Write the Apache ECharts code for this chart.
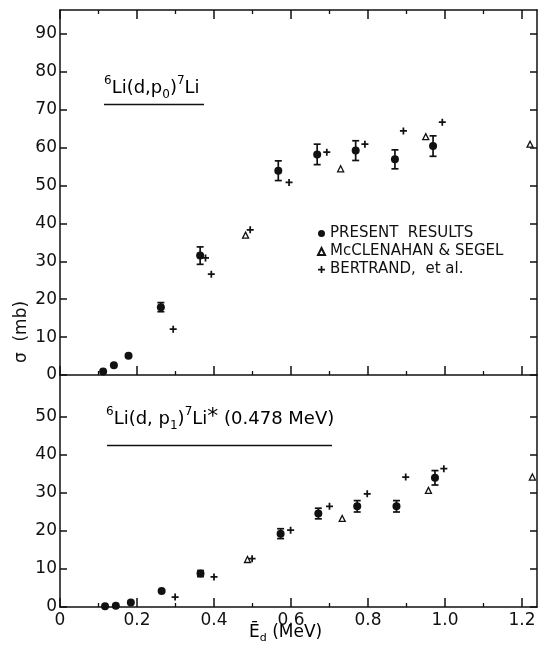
<!DOCTYPE html>
<html>
<head>
    <meta charset="utf-8">
    <title></title>
    <style type="text/css">
        html, body { margin: 0; padding: 0; background: #fff; }
        #main { width: 539px; height: 649px; }
    </style>
</head>
<body>
<div id="main"></div>

<script type="text/javascript" src="https://cdn.jsdelivr.net/npm/echarts@6/dist/echarts.min.js"></script>
<script type="text/javascript">
    // 6Li(d,p0)7Li  (upper panel)
    var p0PresentX = [0.112, 0.140, 0.178, 0.262, 0.364, 0.567, 0.668, 0.768, 0.870, 0.969];
    var p0PresentY = [0.9, 2.6, 5.1, 17.9, 31.5, 53.9, 58.2, 59.2, 56.9, 60.4];
    var p0PresentErr = [0, 0, 0, 1.2, 2.3, 2.6, 2.7, 2.6, 2.5, 2.7];
    var p0McX = [0.482, 0.729, 0.950, 1.221];
    var p0McY = [36.9, 54.4, 62.9, 60.9];
    var p0BertX = [0.294, 0.378, 0.393, 0.494, 0.595, 0.693, 0.792, 0.892, 0.993];
    var p0BertY = [12.1, 30.9, 26.6, 38.3, 50.8, 58.8, 60.9, 64.4, 66.7];

    // 6Li(d,p1)7Li* (lower panel)
    var p1PresentX = [0.117, 0.145, 0.184, 0.264, 0.365, 0.573, 0.671, 0.772, 0.874, 0.974];
    var p1PresentY = [0.2, 0.3, 1.2, 4.2, 8.8, 19.3, 24.6, 26.5, 26.5, 34.0];
    var p1PresentErr = [0, 0, 0, 0, 0.8, 1.3, 1.4, 1.5, 1.5, 1.9];
    var p1McX = [0.487, 0.733, 0.957, 1.227];
    var p1McY = [12.5, 23.3, 30.7, 34.2];
    var p1BertX = [0.299, 0.400, 0.499, 0.599, 0.700, 0.798, 0.898, 0.997];
    var p1BertY = [2.6, 7.9, 12.7, 20.2, 26.5, 29.8, 34.2, 36.4];

    var xTicks = [0, 0.2, 0.4, 0.6, 0.8, 1.0, 1.2];
    var xTickLabels = ['0', '0.2', '0.4', '0.6', '0.8', '1.0', '1.2'];
    var yTopTicks = [0, 10, 20, 30, 40, 50, 60, 70, 80, 90];
    var yBottomTicks = [0, 10, 20, 30, 40, 50];

    var seriesNames = ['PRESENT  RESULTS', 'McCLENAHAN & SEGEL', 'BERTRAND,  et al.'];

    var ink = '#111';
    var font = 'DejaVu Sans';
    var plusPath = 'path://M3,0H5V3H8V5H5V8H3V5H0V3H3Z';

    function pairs(xs, ys) {
        return xs.map(function (x, i) { return [x, ys[i]]; });
    }
    function triples(xs, ys, es) {
        return xs.map(function (x, i) { return [x, ys[i], es[i]]; });
    }

    function renderErr(params, api) {
        var e = api.value(2);
        if (!e) return;
        var x = api.value(0), y = api.value(1);
        var hi = api.coord([x, y + e]);
        var lo = api.coord([x, y - e]);
        var w = 3.5;
        var st = { stroke: ink, lineWidth: 1.7 };
        return {
            type: 'group',
            children: [
                { type: 'line', shape: { x1: hi[0], y1: hi[1], x2: lo[0], y2: lo[1] }, style: st },
                { type: 'line', shape: { x1: hi[0] - w, y1: hi[1], x2: hi[0] + w, y2: hi[1] }, style: st },
                { type: 'line', shape: { x1: lo[0] - w, y1: lo[1], x2: lo[0] + w, y2: lo[1] }, style: st }
            ]
        };
    }

    function xAxisOf(grid, pos, showLabels) {
        return {
            type: 'value', gridIndex: grid, position: pos,
            min: 0, max: 1.239, interval: 0.2,
            axisLine: { show: true, onZero: false, lineStyle: { color: ink, width: 1.5 } },
            axisTick: { show: true, inside: true, length: 9, customValues: xTicks, lineStyle: { color: ink, width: 1.5 } },
            minorTick: { show: true, splitNumber: 2, length: 4, lineStyle: { color: ink, width: 1.3 } },
            axisLabel: {
                show: showLabels, customValues: xTicks, margin: 5,
                color: ink, fontFamily: font, fontSize: 17,
                formatter: function (v) { return xTickLabels[Math.round(v / 0.2)]; }
            },
            splitLine: { show: false }
        };
    }

    function yAxisOf(grid, pos, max, ticks, showLabels) {
        return {
            type: 'value', gridIndex: grid, position: pos,
            min: 0, max: max, interval: 10,
            axisLine: { show: true, onZero: false, lineStyle: { color: ink, width: 1.5 } },
            axisTick: { show: true, inside: true, length: 7, customValues: ticks, lineStyle: { color: ink, width: 1.5 } },
            axisLabel: {
                show: showLabels, customValues: ticks, margin: 3,
                color: ink, fontFamily: font, fontSize: 17
            },
            splitLine: { show: false }
        };
    }

    function scatter(name, data, xi, yi, kind) {
        var s = { name: name, type: 'scatter', xAxisIndex: xi, yAxisIndex: yi, data: data, z: 3 };
        if (kind === 'circle') {
            s.symbol = 'circle'; s.symbolSize = 8;
            s.itemStyle = { color: ink, opacity: 1 };
        } else if (kind === 'triangle') {
            s.symbol = 'triangle'; s.symbolSize = 6;
            s.itemStyle = { color: '#fff', borderColor: ink, borderWidth: 1.3, opacity: 1 };
        } else {
            s.symbol = plusPath; s.symbolSize = 7;
            s.itemStyle = { color: ink, opacity: 1 };
        }
        return s;
    }

    var chart = echarts.init(document.getElementById('main'));

    chart.setOption({
        backgroundColor: '#fff',
        animation: false,
        grid: [
            { left: 60, top: 10, width: 477, height: 365 },
            { left: 60, top: 375, width: 477, height: 232 }
        ],
        xAxis: [
            xAxisOf(0, 'bottom', false),
            xAxisOf(0, 'top', false),
            xAxisOf(1, 'bottom', true)
        ],
        yAxis: [
            yAxisOf(0, 'left', 96.3, yTopTicks, true),
            yAxisOf(0, 'right', 96.3, yTopTicks, false),
            yAxisOf(1, 'left', 61.05, yBottomTicks, true),
            yAxisOf(1, 'right', 61.05, yBottomTicks, false)
        ],
        legend: {
            orient: 'vertical', left: 312, top: 221,
            itemWidth: 7, itemHeight: 7, itemGap: 3,
            textStyle: { color: ink, fontFamily: font, fontSize: 15 },
            data: seriesNames
        },
        series: [
            scatter(seriesNames[0], pairs(p0PresentX, p0PresentY), 0, 0, 'circle'),
            scatter(seriesNames[1], pairs(p0McX, p0McY), 0, 0, 'triangle'),
            scatter(seriesNames[2], pairs(p0BertX, p0BertY), 0, 0, 'plus'),
            { type: 'custom', xAxisIndex: 0, yAxisIndex: 0, renderItem: renderErr,
              data: triples(p0PresentX, p0PresentY, p0PresentErr), z: 2 },
            scatter(seriesNames[0], pairs(p1PresentX, p1PresentY), 2, 2, 'circle'),
            scatter(seriesNames[1], pairs(p1McX, p1McY), 2, 2, 'triangle'),
            scatter(seriesNames[2], pairs(p1BertX, p1BertY), 2, 2, 'plus'),
            { type: 'custom', xAxisIndex: 2, yAxisIndex: 2, renderItem: renderErr,
              data: triples(p1PresentX, p1PresentY, p1PresentErr), z: 2 }
        ],
        graphic: [
            {
                type: 'text', left: 104, top: 75,
                style: {
                    text: '{sup|6}{m|Li(d,p}{sub|0}{m|)}{sup|7}{m|Li}',
                    rich: {
                        m: { fontFamily: font, fontSize: 18, color: ink, lineHeight: 26 },
                        sup: { fontFamily: font, fontSize: 12, color: ink, verticalAlign: 'top', lineHeight: 26 },
                        sub: { fontFamily: font, fontSize: 12, color: ink, verticalAlign: 'bottom', lineHeight: 26 }
                    }
                }
            },
            { type: 'line', shape: { x1: 104, y1: 104.5, x2: 204, y2: 104.5 }, style: { stroke: ink, lineWidth: 1.5 } },
            {
                type: 'text', left: 106, top: 406,
                style: {
                    text: '{sup|6}{m|Li(d, p}{sub|1}{m|)}{sup|7}{m|Li}{st|*}{m| (0.478 MeV)}',
                    rich: {
                        m: { fontFamily: font, fontSize: 18, color: ink, lineHeight: 26 },
                        sup: { fontFamily: font, fontSize: 12, color: ink, verticalAlign: 'top', lineHeight: 26 },
                        sub: { fontFamily: font, fontSize: 12, color: ink, verticalAlign: 'bottom', lineHeight: 26 },
                        st: { fontFamily: font, fontSize: 22, color: ink, verticalAlign: 'top', lineHeight: 26 }
                    }
                }
            },
            { type: 'line', shape: { x1: 107, y1: 445.5, x2: 332, y2: 445.5 }, style: { stroke: ink, lineWidth: 1.5 } },
            {
                type: 'text', x: 22, y: 332, rotation: Math.PI / 2,
                style: {
                    text: 'σ  (mb)', fontFamily: font, fontSize: 17, fill: ink,
                    align: 'center', verticalAlign: 'middle'
                }
            },
            {
                type: 'text', left: 249, top: 624,
                style: {
                    text: '{m|Ē}{sub|d}{m| (MeV)}',
                    rich: {
                        m: { fontFamily: font, fontSize: 17, color: ink, lineHeight: 22 },
                        sub: { fontFamily: font, fontSize: 11, color: ink, verticalAlign: 'bottom', lineHeight: 22 }
                    }
                }
            }
        ]
    });
</script>

</body>
</html>
